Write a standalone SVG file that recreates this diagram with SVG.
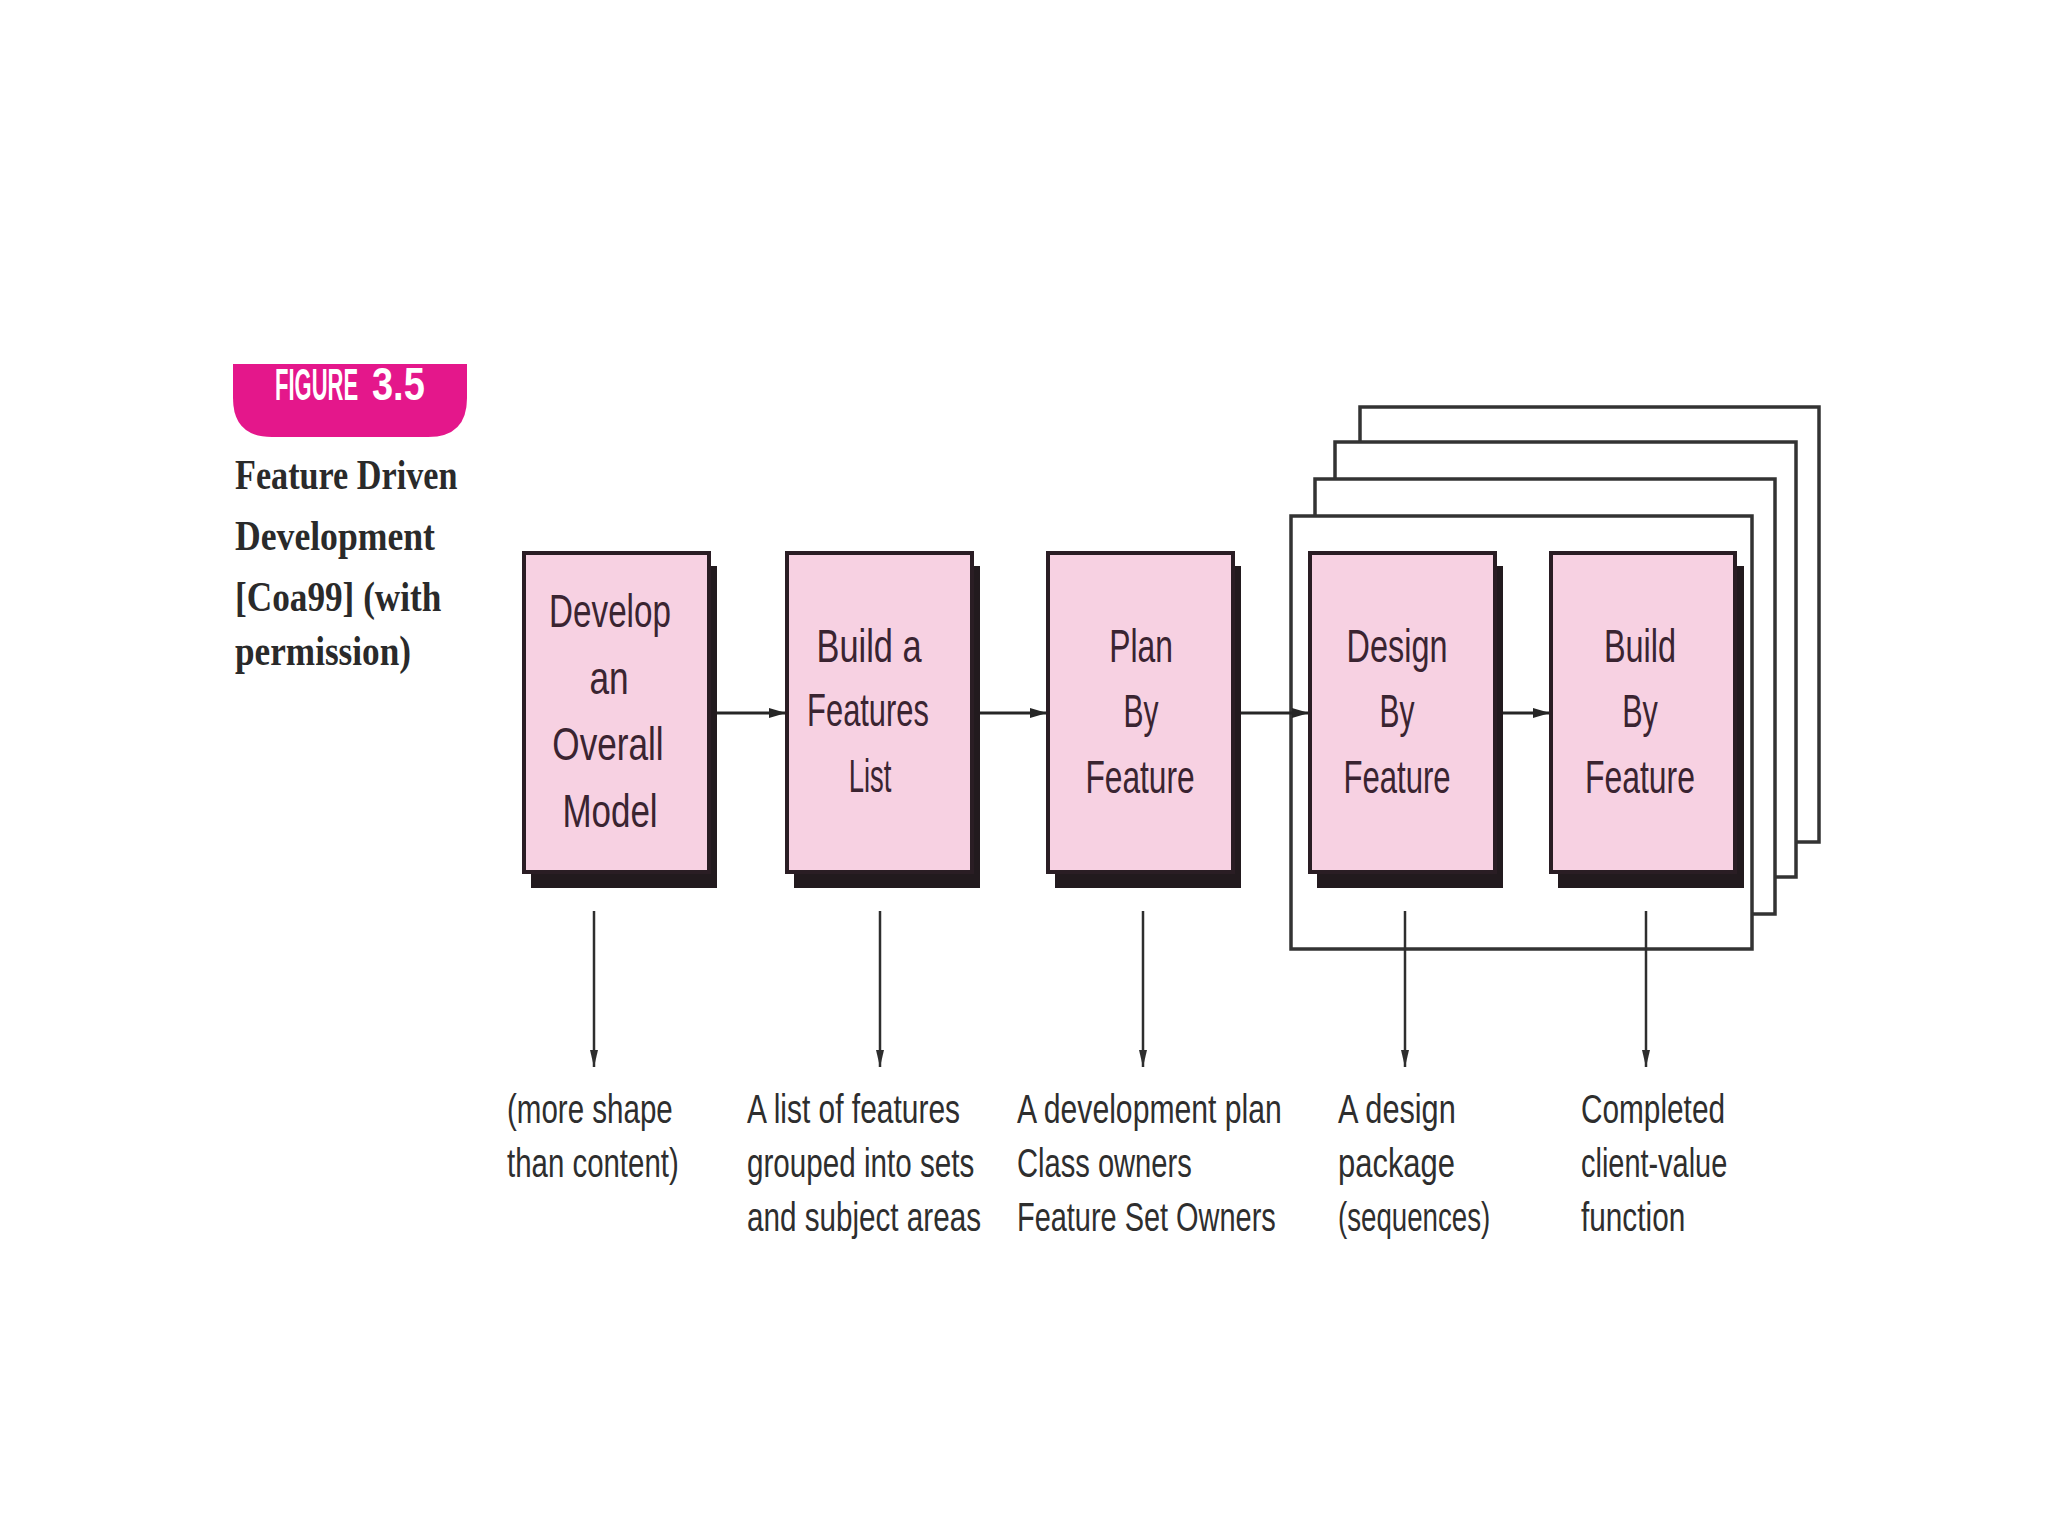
<svg xmlns="http://www.w3.org/2000/svg" width="2048" height="1536" viewBox="0 0 2048 1536">
  <defs>
    <style>
      .bx { fill: #f7d1e2; stroke: #2a1d24; stroke-width: 4; }
      .sh { fill: #221a1e; }
      .fr { fill: #ffffff; stroke: #333333; stroke-width: 3.5; }
      .bt { font-family: "Liberation Sans", Arial, sans-serif; font-size: 46px; fill: #3a2431; text-anchor: middle; }
      .lb { font-family: "Liberation Sans", Arial, sans-serif; font-size: 40px; fill: #2e2e2e; }
      .tt { font-family: "Liberation Serif", "DejaVu Serif", serif; font-weight: bold; font-size: 43px; fill: #2a2a2a; }
      .bd { font-family: "Liberation Sans", Arial, sans-serif; font-weight: bold; fill: #ffffff; }
      .cn { stroke: #262626; stroke-width: 3; fill: none; }
      .cv { stroke: #2e2e2e; stroke-width: 2.5; fill: none; }
    </style>
    <marker id="ah" markerUnits="userSpaceOnUse" markerWidth="18" markerHeight="12" refX="17" refY="6" orient="auto">
      <path d="M0,1 L17,6 L0,11 Z" fill="#262626"/>
    </marker>
    <marker id="av" markerUnits="userSpaceOnUse" markerWidth="18" markerHeight="10" refX="17" refY="5" orient="auto">
      <path d="M0,1 L17,5 L0,9 Z" fill="#2e2e2e"/>
    </marker>
  </defs>
  <rect x="0" y="0" width="2048" height="1536" fill="#ffffff"/>

  <g id="badge">
    <path d="M233,364 L467,364 L467,398 Q467,437 428,437 L272,437 Q233,437 233,398 Z" fill="#e4178b"/>
    <text class="bd" font-size="44" transform="translate(275,400) scale(0.55,1)" textLength="151" lengthAdjust="spacingAndGlyphs">FIGURE</text>
    <text class="bd" font-size="46" transform="translate(372,400) scale(0.8,1)" textLength="66" lengthAdjust="spacingAndGlyphs">3.5</text>
  </g>

  <g id="caption">
    <text class="tt" transform="translate(235,489) scale(0.8,1)" textLength="278" lengthAdjust="spacingAndGlyphs">Feature Driven</text>
    <text class="tt" transform="translate(235,550) scale(0.8,1)" textLength="250" lengthAdjust="spacingAndGlyphs">Development</text>
    <text class="tt" transform="translate(235,611) scale(0.8,1)" textLength="258" lengthAdjust="spacingAndGlyphs">[Coa99] (with</text>
    <text class="tt" transform="translate(235,665) scale(0.8,1)" textLength="220" lengthAdjust="spacingAndGlyphs">permission)</text>
  </g>

  <g id="iteration-stack">
    <rect class="fr" x="1360" y="407" width="459" height="435"/>
    <rect class="fr" x="1335" y="442" width="461" height="435"/>
    <rect class="fr" x="1315" y="479" width="460" height="435"/>
    <rect class="fr" x="1291" y="516" width="461" height="433"/>
  </g>

  <g id="connectors">
    <line class="cn" x1="717" y1="713" x2="786" y2="713" marker-end="url(#ah)"/>
    <line class="cn" x1="980" y1="713" x2="1047" y2="713" marker-end="url(#ah)"/>
    <line class="cn" x1="1240" y1="713" x2="1309" y2="713" marker-end="url(#ah)"/>
    <line class="cn" x1="1503" y1="713" x2="1550" y2="713" marker-end="url(#ah)"/>
    <line class="cv" x1="594" y1="911" x2="594" y2="1067" marker-end="url(#av)"/>
    <line class="cv" x1="880" y1="911" x2="880" y2="1067" marker-end="url(#av)"/>
    <line class="cv" x1="1143" y1="911" x2="1143" y2="1067" marker-end="url(#av)"/>
    <line class="cv" x1="1405" y1="911" x2="1405" y2="1067" marker-end="url(#av)"/>
    <line class="cv" x1="1646" y1="911" x2="1646" y2="1067" marker-end="url(#av)"/>
  </g>

  <g id="develop-overall-model">
    <rect class="sh" x="531" y="566" width="186" height="322"/>
    <rect class="bx" x="524" y="553" width="185" height="319"/>
    <text class="bt" transform="translate(610,627) scale(0.7,1)" textLength="174" lengthAdjust="spacingAndGlyphs">Develop</text>
    <text class="bt" transform="translate(609,694) scale(0.7,1)" textLength="56" lengthAdjust="spacingAndGlyphs">an</text>
    <text class="bt" transform="translate(608,760) scale(0.7,1)" textLength="159" lengthAdjust="spacingAndGlyphs">Overall</text>
    <text class="bt" transform="translate(610,827) scale(0.7,1)" textLength="136" lengthAdjust="spacingAndGlyphs">Model</text>
  </g>

  <g id="build-features-list">
    <rect class="sh" x="794" y="566" width="186" height="322"/>
    <rect class="bx" x="787" y="553" width="185" height="319"/>
    <text class="bt" transform="translate(869,662) scale(0.7,1)" textLength="150" lengthAdjust="spacingAndGlyphs">Build a</text>
    <text class="bt" transform="translate(868,726) scale(0.7,1)" textLength="174" lengthAdjust="spacingAndGlyphs">Features</text>
    <text class="bt" transform="translate(870,792) scale(0.7,1)" textLength="61" lengthAdjust="spacingAndGlyphs">List</text>
  </g>

  <g id="plan-by-feature">
    <rect class="sh" x="1055" y="566" width="186" height="322"/>
    <rect class="bx" x="1048" y="553" width="185" height="319"/>
    <text class="bt" transform="translate(1141,662) scale(0.7,1)" textLength="91" lengthAdjust="spacingAndGlyphs">Plan</text>
    <text class="bt" transform="translate(1141,727) scale(0.7,1)" textLength="50" lengthAdjust="spacingAndGlyphs">By</text>
    <text class="bt" transform="translate(1140,793) scale(0.7,1)" textLength="156" lengthAdjust="spacingAndGlyphs">Feature</text>
  </g>

  <g id="design-by-feature">
    <rect class="sh" x="1317" y="566" width="186" height="322"/>
    <rect class="bx" x="1310" y="553" width="185" height="319"/>
    <text class="bt" transform="translate(1397,662) scale(0.7,1)" textLength="144" lengthAdjust="spacingAndGlyphs">Design</text>
    <text class="bt" transform="translate(1397,727) scale(0.7,1)" textLength="50" lengthAdjust="spacingAndGlyphs">By</text>
    <text class="bt" transform="translate(1397,793) scale(0.7,1)" textLength="153" lengthAdjust="spacingAndGlyphs">Feature</text>
  </g>

  <g id="build-by-feature">
    <rect class="sh" x="1558" y="566" width="186" height="322"/>
    <rect class="bx" x="1551" y="553" width="184" height="319"/>
    <text class="bt" transform="translate(1640,662) scale(0.7,1)" textLength="103" lengthAdjust="spacingAndGlyphs">Build</text>
    <text class="bt" transform="translate(1640,727) scale(0.7,1)" textLength="51" lengthAdjust="spacingAndGlyphs">By</text>
    <text class="bt" transform="translate(1640,793) scale(0.7,1)" textLength="157" lengthAdjust="spacingAndGlyphs">Feature</text>
  </g>

  <g id="output-model">
    <text class="lb" transform="translate(507,1123) scale(0.75,1)" textLength="221" lengthAdjust="spacingAndGlyphs">(more shape</text>
    <text class="lb" transform="translate(507,1177) scale(0.75,1)" textLength="229" lengthAdjust="spacingAndGlyphs">than content)</text>
  </g>
  <g id="output-features-list">
    <text class="lb" transform="translate(747,1123) scale(0.75,1)" textLength="284" lengthAdjust="spacingAndGlyphs">A list of features</text>
    <text class="lb" transform="translate(747,1177) scale(0.75,1)" textLength="303" lengthAdjust="spacingAndGlyphs">grouped into sets</text>
    <text class="lb" transform="translate(747,1231) scale(0.75,1)" textLength="312" lengthAdjust="spacingAndGlyphs">and subject areas</text>
  </g>
  <g id="output-plan">
    <text class="lb" transform="translate(1017,1123) scale(0.75,1)" textLength="353" lengthAdjust="spacingAndGlyphs">A development plan</text>
    <text class="lb" transform="translate(1017,1177) scale(0.75,1)" textLength="233" lengthAdjust="spacingAndGlyphs">Class owners</text>
    <text class="lb" transform="translate(1017,1231) scale(0.75,1)" textLength="345" lengthAdjust="spacingAndGlyphs">Feature Set Owners</text>
  </g>
  <g id="output-design">
    <text class="lb" transform="translate(1338,1123) scale(0.75,1)" textLength="157" lengthAdjust="spacingAndGlyphs">A design</text>
    <text class="lb" transform="translate(1338,1177) scale(0.75,1)" textLength="156" lengthAdjust="spacingAndGlyphs">package</text>
    <text class="lb" transform="translate(1338,1231) scale(0.75,1)" textLength="203" lengthAdjust="spacingAndGlyphs">(sequences)</text>
  </g>
  <g id="output-build">
    <text class="lb" transform="translate(1581,1123) scale(0.75,1)" textLength="192" lengthAdjust="spacingAndGlyphs">Completed</text>
    <text class="lb" transform="translate(1581,1177) scale(0.75,1)" textLength="195" lengthAdjust="spacingAndGlyphs">client-value</text>
    <text class="lb" transform="translate(1581,1231) scale(0.75,1)" textLength="139" lengthAdjust="spacingAndGlyphs">function</text>
  </g>
</svg>
